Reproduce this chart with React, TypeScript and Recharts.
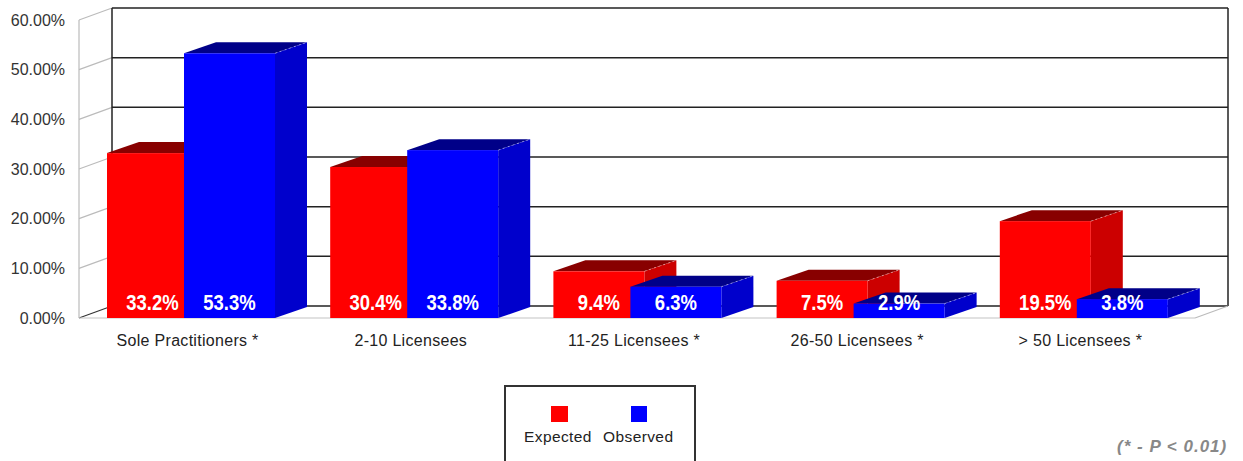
import { Bar, BarChart, CartesianGrid, LabelList, Legend, XAxis, YAxis } from "recharts";

const categories = ["Sole Practitioners *", "2-10 Licensees", "11-25 Licensees *", "26-50 Licensees *", "> 50 Licensees *"];
const expected = [33.2, 30.4, 9.4, 7.5, 19.5];
const observed = [53.3, 33.8, 6.3, 2.9, 3.8];
const yTicks = [0, 10, 20, 30, 40, 50, 60];

const data = categories.map((name, i) => ({ name, expected: expected[i], observed: observed[i] }));

const DX = 33;
const DY = 12;
const FONT = "'Liberation Sans', Arial, sans-serif";

const Bar3D = ({ x, y, width, height, front, top, side }: any) => {
  const bx = 32;
  const by = 11;
  return (
    <g>
      <path d={`M${x},${y}L${x + bx},${y - by}H${x + width + bx}L${x + width},${y}Z`} fill={top} />
      <path d={`M${x + width},${y}L${x + width + bx},${y - by}V${y + height - by}L${x + width},${y + height}Z`} fill={side} />
      <rect x={x} y={y} width={width} height={height} fill={front} />
      <line x1={x + width} y1={y} x2={x + width + bx} y2={y - by} stroke="#ffffff" strokeOpacity={0.45} strokeDasharray="2 3" />
    </g>
  );
};

const GridLine = ({ x1, x2, y1 }: any) => {
  const isFloor = y1 > 310;
  return (
    <g>
      <line x1={x1 + DX} x2={x2 + DX} y1={y1 - DY} y2={y1 - DY} stroke="#222222" strokeWidth={1.5} />
      <line x1={x1} x2={x1 + DX} y1={y1} y2={y1 - DY} stroke={isFloor ? "#333333" : "#bbbbbb"} strokeWidth={1.2} />
      {isFloor && <line x1={x1} x2={x2} y1={y1} y2={y1} stroke="#c4c4c4" strokeWidth={1.2} />}
    </g>
  );
};

const WallLine = ({ x1, y1, y2, index }: any) => {
  if (index === 0) {
    return (
      <g>
        <line x1={x1} x2={x1} y1={y1} y2={y2} stroke="#bbbbbb" strokeWidth={1.2} />
        <line x1={x1 + DX} x2={x1 + DX} y1={y1 - DY} y2={y2 - DY} stroke="#222222" strokeWidth={1.5} />
      </g>
    );
  }
  return (
    <g>
      <line x1={x1 + DX} x2={x1 + DX} y1={y1 - DY} y2={y2 - DY} stroke="#222222" strokeWidth={1.5} />
      <line x1={x1} x2={x1 + DX} y1={y2} y2={y2 - DY} stroke="#bbbbbb" strokeWidth={1.2} />
    </g>
  );
};

const LegendBox = () => (
  <div
    style={{
      width: 192,
      height: 100,
      boxSizing: "border-box",
      border: "2px solid #333333",
      position: "relative",
      fontFamily: FONT,
      fontSize: 15.5,
      letterSpacing: 0.4,
      color: "#222222",
    }}
  >
    <div style={{ position: "absolute", left: 45, top: 19, width: 17, height: 16, background: "#ff0000" }} />
    <div style={{ position: "absolute", left: 125, top: 19, width: 16, height: 16, background: "#0000ff" }} />
    <div style={{ position: "absolute", left: 18, top: 41 }}>Expected</div>
    <div style={{ position: "absolute", left: 97, top: 41 }}>Observed</div>
  </div>
);

// narrow bold value label sitting at the foot of the bar
const ValueLabel = ({ x, y, width, height, value }: any) => (
  <text
    transform={`translate(${x + width / 2}, ${y + height - 8}) scale(0.84, 1)`}
    textAnchor="middle"
    fill="#ffffff"
    fontFamily={FONT}
    fontWeight={700}
    fontSize={22}
  >
    {`${Number(value).toFixed(1)}%`}
  </text>
);

export default function App() {
  return (
    <div style={{ position: "absolute", left: 0, top: 0, width: 1243, height: 461, overflow: "hidden", background: "#ffffff" }}>
      <BarChart
        width={1243}
        height={461}
        data={data}
        barSize={91}
        barGap={-14}
        barCategoryGap={0}
        margin={{ top: 20, right: 48, bottom: 100, left: 0 }}
      >
        <CartesianGrid
          horizontal={(props: any) => <GridLine key={`h-${props.index}`} {...props} />}
          vertical={(props: any) => <WallLine key={`v-${props.index}`} {...props} />}
          verticalCoordinatesGenerator={({ offset }: any) => [offset.left, offset.left + offset.width]}
        />
        <XAxis
          dataKey="name"
          height={43}
          axisLine={false}
          tickLine={false}
          tickSize={0}
          tickMargin={17}
          interval={0}
          dx={-3}
          tick={{ fill: "#222222", fontFamily: FONT, fontSize: 16, letterSpacing: 0.3 }}
        />
        <YAxis
          width={79}
          domain={[0, 60]}
          ticks={yTicks}
          axisLine={false}
          tickLine={false}
          tickSize={0}
          tickMargin={14}
          tickFormatter={(v: number) => `${v.toFixed(2)}%`}
          tick={{ fill: "#333333", fontFamily: FONT, fontSize: 16 }}
        />
        <Legend
          layout="horizontal"
          verticalAlign="middle"
          content={() => <LegendBox />}
          wrapperStyle={{ position: "absolute", left: 504, top: 385, width: 192, height: 100 }}
        />
        <Bar
          dataKey="expected"
          name="Expected"
          isAnimationActive={false}
          shape={(props: any) => <Bar3D {...props} front="#ff0000" top="#880000" side="#cc0000" />}
        >
          <LabelList dataKey="expected" content={<ValueLabel />} />
        </Bar>
        <Bar
          dataKey="observed"
          name="Observed"
          isAnimationActive={false}
          shape={(props: any) => <Bar3D {...props} front="#0000ff" top="#000088" side="#0000cc" />}
        >
          <LabelList dataKey="observed" content={<ValueLabel />} />
        </Bar>
      </BarChart>
      <div
        style={{
          position: "absolute",
          left: 1117,
          top: 437,
          fontFamily: FONT,
          fontSize: 17,
          fontWeight: 700,
          fontStyle: "italic",
          letterSpacing: 1,
          color: "#888888",
          whiteSpace: "nowrap",
        }}
      >
        (* - P &lt; 0.01)
      </div>
    </div>
  );
}
